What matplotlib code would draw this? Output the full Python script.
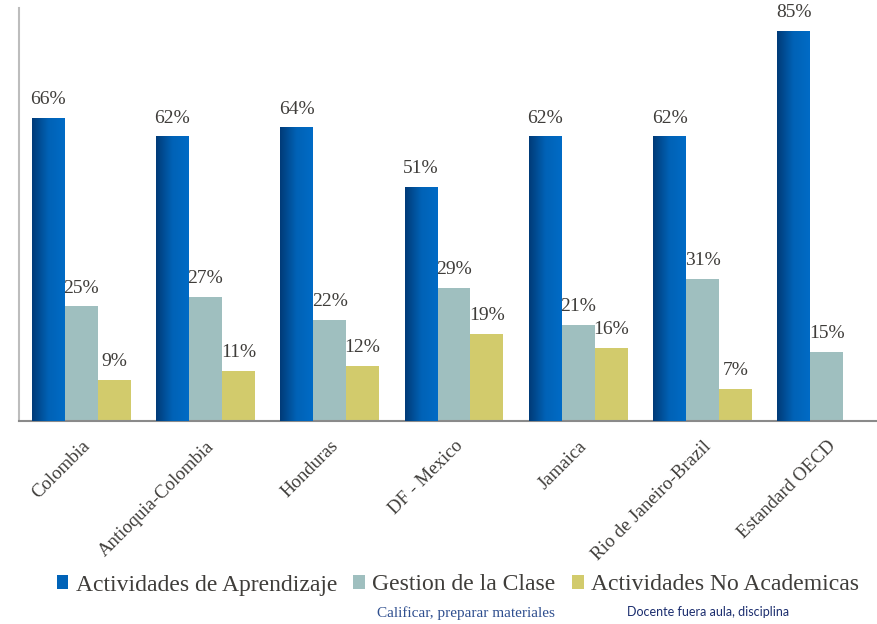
import numpy as np
import matplotlib
matplotlib.use("Agg")
import matplotlib.pyplot as plt
from matplotlib.colors import LinearSegmentedColormap

# Data
paises = ["Colombia", "Antioquia-Colombia", "Honduras", "DF - Mexico",
          "Jamaica", "Rio de Janeiro-Brazil", "Estandard OECD"]
aprendizaje = [66, 62, 64, 51, 62, 62, 85]
gestion = [25, 27, 22, 29, 21, 31, 15]
no_academicas = [9, 11, 12, 19, 16, 7]   # no value for OECD

series_names = ["Actividades de Aprendizaje", "Gestion de la Clase",
                "Actividades No Academicas"]

txt_color = "#3f3d3a"
plt.rcParams["font.family"] = ["Liberation Serif", "DejaVu Serif"]

fig = plt.figure(figsize=(8.77, 6.24), dpi=100)
ax = fig.add_axes([19/877, 203/624, 870/877, 413/624])

w = 0.265
x = np.arange(len(paises))

b1 = ax.bar(x - w, aprendizaje, w, color="#0063b8", zorder=2)
b2 = ax.bar(x, gestion, w, color="#9fbfbf", zorder=2)
b3 = ax.bar(x[:len(no_academicas)] + w, no_academicas, w, color="#d2cb6c", zorder=2)

# gradient on the blue bars (dark on the left)
cmap = LinearSegmentedColormap.from_list(
    "azul", [(0, "#003b78"), (0.5, "#0062b6"), (1, "#006bc6")])
grad = np.linspace(0, 1, 64).reshape(1, -1)
for rect in b1:
    x0, y0 = rect.get_xy()
    im = ax.imshow(grad, extent=[x0, x0 + rect.get_width(), y0, y0 + rect.get_height()],
                   aspect="auto", cmap=cmap, origin="lower", zorder=3)
    im.set_clip_path(rect)

for bars, vals in [(b1, aprendizaje), (b2, gestion), (b3, no_academicas)]:
    ax.bar_label(bars, labels=["%d%%" % v for v in vals], padding=7,
                 fontsize=14, color=txt_color)

ax.set_xlim(-0.5, len(paises) - 0.5)
ax.set_ylim(0, 90)
ax.set_xticks(x)
ax.set_xticklabels(paises, rotation=45, ha="right", rotation_mode="anchor",
                   fontsize=13.5, color=txt_color)
ax.tick_params(axis="x", length=0, pad=12)
ax.set_yticks([])

for s in ["top", "right"]:
    ax.spines[s].set_visible(False)
ax.spines["left"].set_color("#bdbdbd")
ax.spines["left"].set_linewidth(1.5)
ax.spines["bottom"].set_color("#8a8a8a")
ax.spines["bottom"].set_linewidth(1.5)

leg = fig.legend([b1, b2, b3], series_names, loc="center",
                 bbox_to_anchor=(0.522, 0.0625), ncol=3, frameon=False,
                 prop={"size": 17},
                 handlelength=0.5, handleheight=0.5, handletextpad=0.3,
                 columnspacing=0.7, borderpad=0)
for t in leg.get_texts():
    t.set_color(txt_color)

fig.text(0.531, 0.018, "Calificar, preparar materiales", ha="center", va="center",
         fontsize=11, color="#2f4f8f")
fig.text(0.807, 0.019, "Docente fuera aula, disciplina", ha="center", va="center",
         fontsize=9, family="Lato", color="#1b2d6e")

fig.savefig("out.png", dpi=100)
